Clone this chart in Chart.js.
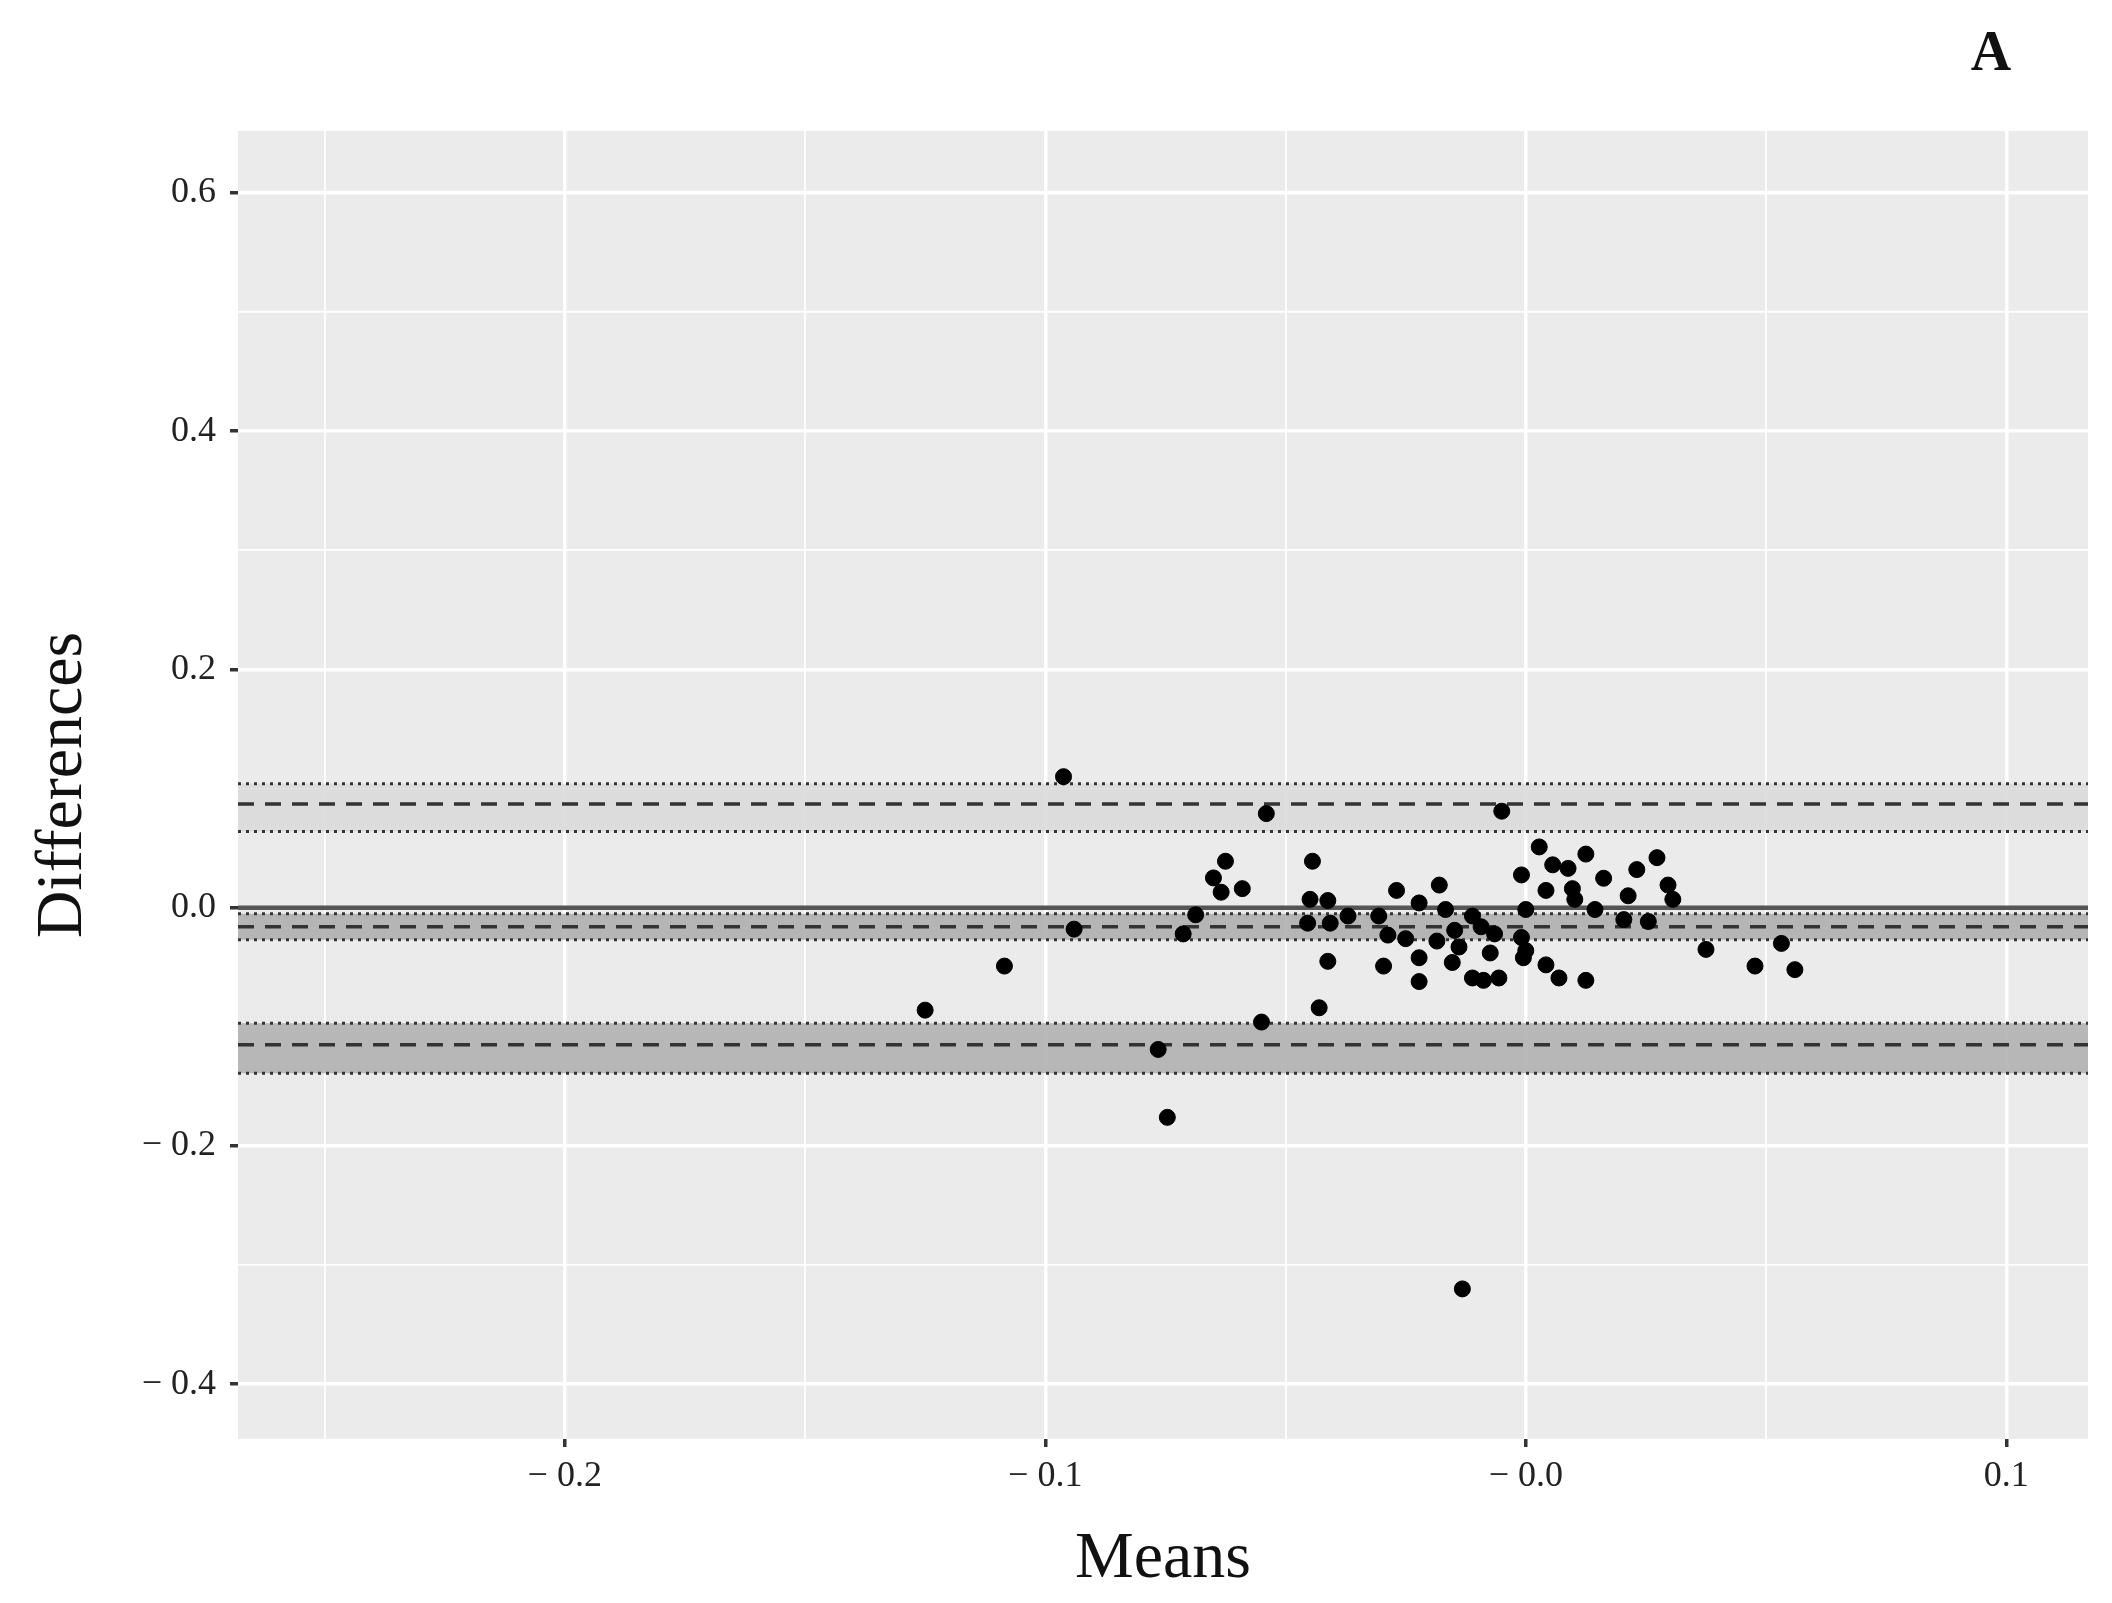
<!DOCTYPE html>
<html><head><meta charset="utf-8">
<script src="https://cdn.jsdelivr.net/npm/chart.js@4/dist/chart.umd.min.js"></script>
<style>html,body{margin:0;padding:0;background:#fff}#w{width:2112px;height:1603px;position:relative}</style>
</head><body><div id="w"><canvas id="c"></canvas></div>
<script>
const meansX = [-0.0962,-0.094,-0.1085,-0.125,-0.0765,-0.0746,-0.0132,-0.054,-0.005,
-0.0625,-0.065,-0.0634,-0.059,-0.0687,-0.0713,-0.0444,-0.0449,-0.0412,-0.0454,-0.0407,-0.037,-0.0412,-0.043,-0.055,
-0.0306,-0.0296,-0.0269,-0.0222,-0.0287,-0.025,-0.018,-0.0167,-0.0222,-0.0222,-0.0185,-0.0148,-0.0153,-0.0111,-0.0093,
-0.0111,-0.0088,-0.0056,-0.0074,-0.0139,-0.0065,0.0,-0.0009,0.0,-0.0005,-0.0009,0.0028,0.0056,0.0088,0.0125,0.0042,
0.0097,0.0102,0.0144,0.0162,0.0042,0.0069,0.0125,0.0204,0.0213,0.0231,0.0273,0.0255,0.0296,0.0306,0.0375,0.0477,0.0532,0.056];
const diffsY = [0.110,-0.018,-0.049,-0.086,-0.119,-0.176,-0.320,0.079,0.081,
0.039,0.025,0.013,0.016,-0.006,-0.022,0.039,0.007,0.006,-0.013,-0.013,-0.007,-0.045,-0.084,-0.096,
-0.007,-0.049,0.0145,0.004,-0.023,-0.026,0.019,-0.0015,-0.042,-0.062,-0.028,-0.019,-0.046,-0.007,-0.016,
-0.059,-0.061,-0.059,-0.038,-0.033,-0.022,-0.0015,-0.025,-0.036,-0.042,0.0275,0.051,0.036,0.033,0.045,0.0145,
0.016,0.007,-0.0015,0.0247,-0.048,-0.059,-0.061,-0.010,0.010,0.032,0.042,-0.0116,0.019,0.007,-0.035,-0.049,-0.030,-0.052];
const upperLoA = [0.064, 0.087, 0.104];   // lower CI, estimate, upper CI
const meanDiff = [-0.027, -0.016, -0.005];
const lowerLoA = [-0.139, -0.115, -0.097];
const xRange = [-0.268, 0.117];
const yRange = [-0.446, 0.652];

const hl = v => xRange.map(x => ({x, y: v}));
const bandDs = (arr, fillCol) => [
  {type:'line', data: hl(arr[0]), borderColor:'#333', borderWidth:3, borderDash:[3,5], pointRadius:0, fill:false, order:5},
  {type:'line', data: hl(arr[2]), borderColor:'#333', borderWidth:3, borderDash:[3,5], pointRadius:0, fill:'-1', backgroundColor:fillCol, order:5},
  {type:'line', data: hl(arr[1]), borderColor:'#333', borderWidth:3.5, borderDash:[16,11], pointRadius:0, fill:false, order:3}
];
const datasets = [
  ...bandDs(upperLoA, 'rgba(218,218,218,0.9)'),
  ...bandDs(meanDiff, 'rgba(175,175,175,0.9)'),
  ...bandDs(lowerLoA, 'rgba(180,180,180,0.95)'),
  {type:'line', data: hl(0), borderColor:'#555', borderWidth:4.5, pointRadius:0, fill:false, order:4},
  {type:'scatter', data: meansX.map((x,i)=>({x, y: diffsY[i]})), backgroundColor:'#000', borderColor:'#000', pointRadius:8, order:1}
];
const isMajX = v => Math.abs(Math.round(v*10) - v*10) < 1e-6;
const isMajY = v => Math.abs(Math.round(v*5) - v*5) < 1e-6;
const bg = {id:'bg', beforeDraw(ch){const a=ch.chartArea,c=ch.ctx;c.save();c.fillStyle='#EBEBEB';c.fillRect(a.left,a.top,a.right-a.left,a.bottom-a.top);c.restore();},
  afterDraw(ch){const c=ch.ctx;c.save();c.fillStyle='#111';c.font='bold 56px "Liberation Serif"';c.textAlign='center';c.fillText('A',1991,70);c.restore();}};
const lab = v => Math.abs(v)<1e-9 ? null : (v<0?'\u2212 '+Math.abs(v).toFixed(1):v.toFixed(1));
new Chart(document.getElementById('c'), {
  data:{datasets},
  plugins:[bg],
  options:{
    responsive:true, maintainAspectRatio:false, animation:false,
    layout:{padding:{top:131,right:24,left:20,bottom:0}},
    plugins:{legend:{display:false},tooltip:{enabled:false}},
    scales:{
      x:{type:'linear', min:xRange[0], max:xRange[1],
        afterBuildTicks(s){s.ticks=[];for(let k=-5;k<=2;k++)s.ticks.push({value:k*0.05});},
        afterFit(s){s.height=164;},
        border:{display:false},
        grid:{color:'#fff', lineWidth:c=>isMajX(c.tick.value)?3.5:1.8, tickColor:c=>isMajX(c.tick.value)?'#333':'rgba(0,0,0,0)', tickLength:8},
        ticks:{color:'#222', font:{family:'"Liberation Serif"', size:36}, padding:8,
          callback:v=>!isMajX(v)?'':(Math.abs(v)<1e-9?'\u2212 0.0':lab(v))},
        title:{display:true, text:'Means', color:'#111', font:{family:'"Liberation Serif"', size:66}, padding:{top:0}}
      },
      y:{type:'linear', min:yRange[0], max:yRange[1],
        afterBuildTicks(s){s.ticks=[];for(let k=-4;k<=6;k++)s.ticks.push({value:k*0.1});},
        afterFit(s){s.width=218;},
        border:{display:false},
        grid:{color:'#fff', lineWidth:c=>isMajY(c.tick.value)?3.5:1.8, tickColor:c=>isMajY(c.tick.value)?'#333':'rgba(0,0,0,0)', tickLength:8},
        ticks:{color:'#222', font:{family:'"Liberation Serif"', size:36}, padding:14,
          callback:v=>!isMajY(v)?'':(Math.abs(v)<1e-9?'0.0':lab(v))},
        title:{display:true, text:'Differences', color:'#111', font:{family:'"Liberation Serif"', size:66}, padding:{bottom:22}}
      }
    }
  }
});
</script></body></html>
